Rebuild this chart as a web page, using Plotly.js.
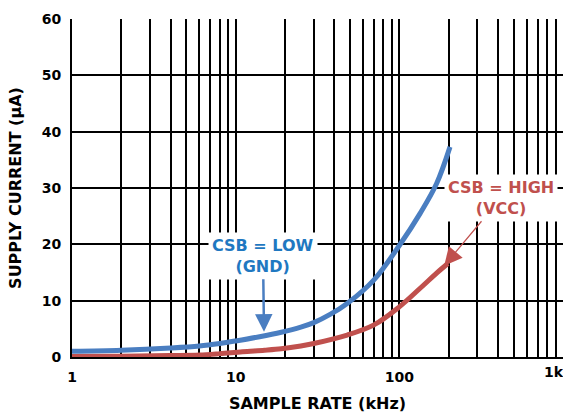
<!DOCTYPE html>
<html>
<head>
<meta charset="utf-8">
<script src="https://cdn.plot.ly/plotly-3.0.1.min.js"></script>
<style>
html,body{margin:0;padding:0;overflow:hidden;background:#fff;}
#chart{width:563px;height:414px;}
</style>
</head>
<body>
<div id="chart"></div>
<script>
// Sample rate (kHz) and supply current (µA)
const lowRate = [1, 2, 4, 6, 8, 10, 14, 19, 25, 30, 38, 48, 70, 100, 134, 169, 204];
const lowCurrent = [1.0, 1.2, 1.6, 1.95, 2.4, 2.85, 3.6, 4.4, 5.3, 6.1, 7.6, 9.5, 13.7, 19.8, 25.5, 30.8, 37.3];
const highRate = [1, 2, 4, 6, 8, 11, 15, 19, 25, 30, 48, 70, 100, 134, 169, 198];
const highCurrent = [0.1, 0.15, 0.25, 0.35, 0.6, 0.95, 1.2, 1.45, 1.95, 2.4, 3.9, 5.7, 8.9, 12.2, 14.9, 16.6];

const xLabelVals = [1, 10, 100];
const xLabels = ['1', '10', '100'];
const xEndLabel = '1k';
const yTickVals = [0, 10, 20, 30, 40, 50, 60];
const yTickLabels = ['0', '10', '20', '30', '40', '50', '60'];

const lowLabel = 'CSB = LOW<br>(GND)';
const highLabel = 'CSB = HIGH<br>(VCC)';
const lowArrowAt = [14.9, 4.5];
const highArrowAt = [188, 16.2];

// grid positions: every 1..9 in each decade
const gridVals = [];
const gridText = [];
[1, 10, 100].forEach(d => {
  for (let k = 1; k <= 9; k++) {
    const v = d * k;
    gridVals.push(v);
    const i = xLabelVals.indexOf(v);
    gridText.push(i >= 0 ? xLabels[i] : '');
  }
});
gridVals.push(1000); gridText.push('');

const BLUE = '#4a7ec1', BLUE_TXT = '#1f78c1', RED = '#c0504d';
const FONT = 'DejaVu Sans';

const traces = [
  {x: lowRate, y: lowCurrent, type: 'scatter', mode: 'lines',
   line: {color: BLUE, width: 5, shape: 'spline', smoothing: 1}, hoverinfo: 'skip'},
  {x: highRate, y: highCurrent, type: 'scatter', mode: 'lines',
   line: {color: RED, width: 5, shape: 'spline', smoothing: 1}, hoverinfo: 'skip'}
];

const layout = {
  width: 563, height: 414,
  margin: {l: 72, r: 0, t: 19, b: 57, pad: 0},
  paper_bgcolor: '#fff', plot_bgcolor: '#fff',
  showlegend: false,
  font: {family: FONT, color: '#000'},
  xaxis: {
    type: 'log', range: [0, 3],
    tickmode: 'array', tickvals: gridVals, ticktext: gridText,
    showgrid: true, gridcolor: '#000', gridwidth: 2,
    showline: true, linecolor: '#000', linewidth: 2,
    ticks: '', ticklabelstandoff: 6,
    tickfont: {family: FONT, size: 14, weight: 'bold', color: '#000'},
    zeroline: false,
    title: {text: 'SAMPLE RATE (kHz)', standoff: 14,
            font: {family: FONT, size: 16, weight: 'bold', color: '#000'}}
  },
  yaxis: {
    range: [0, 60],
    tickmode: 'array', tickvals: yTickVals, ticktext: yTickLabels,
    showgrid: true, gridcolor: '#000', gridwidth: 2,
    showline: true, linecolor: '#000', linewidth: 2,
    ticks: '', ticklabelstandoff: 6,
    tickfont: {family: FONT, size: 14, weight: 'bold', color: '#000'},
    zeroline: false,
    title: {text: 'SUPPLY CURRENT (µA)', standoff: 16,
            font: {family: FONT, size: 16, weight: 'bold', color: '#000'}}
  },
  annotations: [
    {x: Math.log10(lowArrowAt[0]), y: lowArrowAt[1], xref: 'x', yref: 'y',
     text: lowLabel, showarrow: true, ax: -1, ay: -76,
     arrowhead: 2, arrowsize: 1.4, arrowwidth: 2.5, arrowcolor: BLUE,
     bgcolor: '#fff', borderpad: 3,
     font: {family: FONT, size: 16, weight: 'bold', color: BLUE_TXT}},
    {x: Math.log10(highArrowAt[0]), y: highArrowAt[1], xref: 'x', yref: 'y',
     text: highLabel, showarrow: true, ax: 57, ay: -68,
     arrowhead: 2, arrowsize: 3, arrowwidth: 1.2, arrowcolor: RED,
     bgcolor: '#fff', borderpad: 3,
     font: {family: FONT, size: 16, weight: 'bold', color: RED}},
    {x: 3, y: 0, xref: 'x', yref: 'y', text: xEndLabel, showarrow: false,
     xanchor: 'right', yanchor: 'top', yshift: -5, xshift: 3,
     font: {family: FONT, size: 14, weight: 'bold', color: '#000'}}
  ]
};

Plotly.newPlot('chart', traces, layout, {staticPlot: true, displayModeBar: false});
</script>
</body>
</html>
